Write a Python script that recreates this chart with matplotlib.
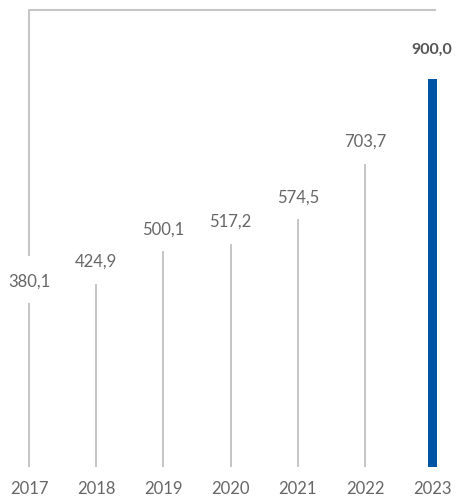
import matplotlib
matplotlib.use("Agg")
import matplotlib.pyplot as plt

years = ["2017", "2018", "2019", "2020", "2021", "2022", "2023"]
values = [380.1, 424.9, 500.1, 517.2, 574.5, 703.7, 900.0]
labels = ["380,1", "424,9", "500,1", "517,2", "574,5", "703,7", "900,0"]

W, H = 460, 499
fig = plt.figure(figsize=(W / 100, H / 100), dpi=100)
base_px = 32          # baseline distance from bottom of figure
ax = fig.add_axes([0, base_px / H, 1, (H - base_px) / H])

px_per_unit = 388 / 900.0
ymax = (H - base_px) / px_per_unit
step = 67.2
x0 = 29
ax.set_xlim(-x0 / step, (W - x0) / step)
ax.set_ylim(0, ymax)

gray = "#c6c6c6"
blue = "#0055a4"
txt = "#666666"
font = "Lato"

xs = list(range(len(years)))
widths = [2.0 / step] * (len(years) - 1) + [9.0 / step]
colors = [gray] * (len(years) - 1) + [blue]
ax.bar(xs, values, width=widths, color=colors, linewidth=0)

# bracket around the top of the chart
top_val = (467 - 9.5) / px_per_unit
break_val = (467 - 256) / px_per_unit
ax.plot([0, 0, 6 + 4 / step], [break_val, top_val, top_val],
        color=gray, lw=1.5, solid_capstyle="butt")

for i, (v, lab) in enumerate(zip(values, labels)):
    last = i == len(values) - 1
    off = 29 if last else 22
    ax.text(i, v + off / px_per_unit, lab, ha="center", va="center",
            fontsize=12 if not last else 11.5,
            color=txt if not last else "#555555",
            family=font, fontweight="bold" if last else "normal")

ax.set_xticks(xs)
ax.set_xticklabels(years, fontsize=12, color=txt, family=font)
ax.tick_params(axis="x", length=0, pad=10)
ax.set_yticks([])
for s in ax.spines.values():
    s.set_visible(False)
ax.patch.set_alpha(0)

fig.savefig("out.png", dpi=100)
